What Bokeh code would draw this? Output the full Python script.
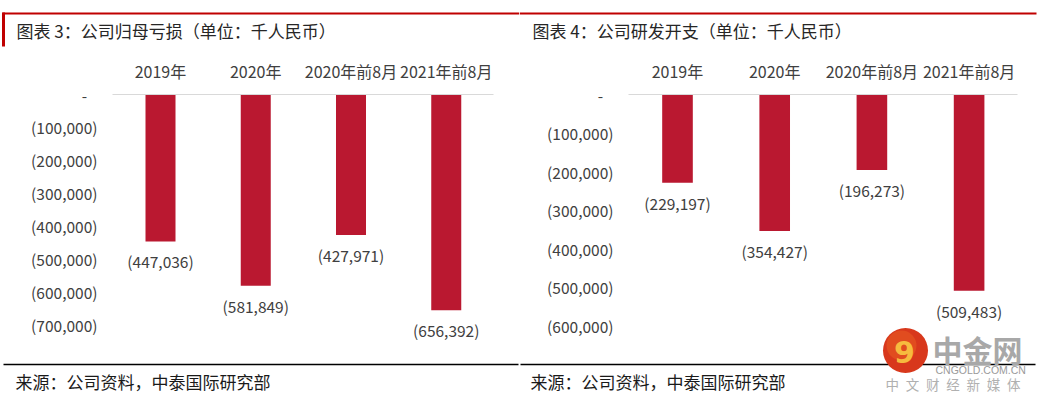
from bokeh.plotting import figure
from bokeh.models import (ColumnDataSource, LabelSet, Label, Arrow, FixedTicker,
                          Range1d)
from bokeh.layouts import row
from bokeh.core.properties import value
from bokeh.embed import file_html
from bokeh.resources import INLINE

# ---------------- data ----------------
categories = ["2019年", "2020年", "2020年前8月", "2021年前8月"]
loss_values = [-447036, -581849, -427971, -656392]          # 公司归母亏损
rd_values = [-229197, -354427, -196273, -509483]            # 公司研发开支
loss_ticks = [0, -100000, -200000, -300000, -400000, -500000, -600000, -700000]
rd_ticks = [0, -100000, -200000, -300000, -400000, -500000, -600000]
title_left = "图表 3：公司归母亏损（单位：千人民币）"
title_right = "图表 4：公司研发开支（单位：千人民币）"
source_text = "来源：公司资料，中泰国际研究部"

# ---------------- style ----------------
FONT = "Noto Sans CJK SC"
BAR_COLOR = "#BA1830"
RED = "#C00000"
TXT = "#404040"
H = 400
ZERO_Y = 94          # canvas pixel row of the zero line


def tick_label(v):
    return "-\u00a0\u00a0\u00a0" if v == 0 else f"({abs(v):,})"


def make_panel(width, first_cx, step, axis_left, px_per_100k, values, ticks,
               title, title_x, src_x, left_bar, watermark=False):
    n = len(categories)
    pos = list(range(n))

    def dx(X):
        return (X - first_cx) / step

    def dy(Y):
        return (ZERO_Y - Y) / px_per_100k * 100000

    p = figure(width=width, height=H,
               x_range=Range1d(dx(0), dx(width)),
               y_range=Range1d(dy(H), dy(0)), x_axis_location="above",
               output_backend="svg", toolbar_location=None,
               min_border_left=0, min_border_right=0,
               min_border_top=0, min_border_bottom=0)
    p.outline_line_color = None
    p.grid.visible = False
    p.background_fill_color = "white"
    p.border_fill_color = "white"

    src = ColumnDataSource(dict(x=pos, cat=categories, val=values,
                                lab=[f"({abs(v):,})" for v in values]))
    p.vbar(x="x", top=0, bottom="val", width=0.315, source=src,
           fill_color=BAR_COLOR, line_color=None)
    p.add_layout(LabelSet(x="x", y="val", text="lab", source=src,
                          y_offset=-20, text_align="center",
                          text_baseline="middle", text_font=value(FONT),
                          text_font_size="15.5px", text_color=TXT))

    # category axis along the zero line
    xa = p.xaxis[0]
    xa.fixed_location = 0
    xa.bounds = (-0.5, n - 0.5)
    xa.ticker = FixedTicker(ticks=pos)
    xa.major_label_overrides = {i: c for i, c in zip(pos, categories)}
    xa.axis_line_color = "#D9D9D9"
    xa.axis_line_width = 1
    xa.major_tick_line_color = None
    xa.major_tick_out = 0
    xa.major_tick_in = 0
    xa.minor_tick_line_color = None
    xa.major_label_text_font = FONT
    xa.major_label_text_font_size = "16px"
    xa.major_label_text_color = TXT
    xa.major_label_standoff = 12

    ya = p.yaxis[0]
    ya.fixed_location = dx(axis_left)
    ya.ticker = FixedTicker(ticks=ticks)
    ya.major_label_overrides = {t: tick_label(t) for t in ticks}
    ya.axis_line_color = None
    ya.major_tick_line_color = None
    ya.major_tick_out = 0
    ya.major_tick_in = 0
    ya.minor_tick_line_color = None
    ya.major_label_text_font = FONT
    ya.major_label_text_font_size = "15.5px"
    ya.major_label_text_color = TXT
    ya.major_label_standoff = 15

    # decorations (canvas pixels converted into data space)
    p.add_layout(Arrow(end=None, x_start=dx(2 if left_bar else 0),
                       y_start=dy(13), x_end=dx(width if left_bar else width - 3),
                       y_end=dy(13), line_color=RED, line_width=2))
    if left_bar:
        p.add_layout(Arrow(end=None, x_start=dx(3), y_start=dy(12),
                           x_end=dx(3), y_end=dy(46),
                           line_color=RED, line_width=3))
    p.add_layout(Label(x=dx(title_x), y=dy(30), text=title,
                       text_baseline="middle", text_align="left",
                       text_font=FONT, text_font_size="17px",
                       text_color="#262626"))
    p.add_layout(Arrow(end=None, x_start=dx(3 if left_bar else 1),
                       y_start=dy(364), x_end=dx(width - 1 if left_bar else width - 4),
                       y_end=dy(364), line_color="black", line_width=1.5,
                       level="underlay"))
    p.add_layout(Label(x=dx(src_x), y=dy(381), text=source_text,
                       text_baseline="middle", text_align="left",
                       text_font=FONT, text_font_size="17px",
                       text_color="#1a1a1a"))

    if watermark:
        p.scatter(x=[dx(386)], y=[dy(350)], size=45, marker="circle",
                  fill_color="#D8381C", line_color=None)
        p.scatter(x=[dx(382)], y=[dy(345)], size=30, marker="circle",
                  fill_color="#E85A22", fill_alpha=0.6, line_color=None)
        p.add_layout(Label(x=dx(385), y=dy(351), text="9",
                           text_align="center", text_baseline="middle",
                           text_font="DejaVu Sans",
                           text_font_style="bold", text_font_size="30px",
                           text_color="#F6BB3E"))
        p.add_layout(Label(x=dx(413), y=dy(348), text="中金网",
                           text_align="left", text_baseline="middle",
                           text_font=FONT, text_font_style="bold",
                           text_font_size="30px", text_color="#A8A8A8"))
        p.add_layout(Label(x=dx(416), y=dy(369), text="CNGOLD.COM.CN",
                           text_align="left", text_baseline="middle",
                           text_font="Liberation Sans",
                           text_font_size="10.5px", text_color="#9A9A9A"))
        p.add_layout(Label(x=dx(366), y=dy(383),
                           text="中\u2002文\u2002财\u2002经\u2002新\u2002媒\u2002体",
                           text_align="left", text_baseline="middle",
                           text_font=FONT, text_font_size="13.5px",
                           text_color="#B0B0B0"))
    return p


p1 = make_panel(519, 160, 95.25, 112, 230 / 7, loss_values, loss_ticks,
                title_left, 16, 15, True)
p2 = make_panel(520, 158, 97.2, 109, 231 / 6, rd_values, rd_ticks,
                title_right, 13, 11, False, watermark=True)

layout = row(p1, p2)
open("out.html", "w").write(file_html(layout, INLINE))
